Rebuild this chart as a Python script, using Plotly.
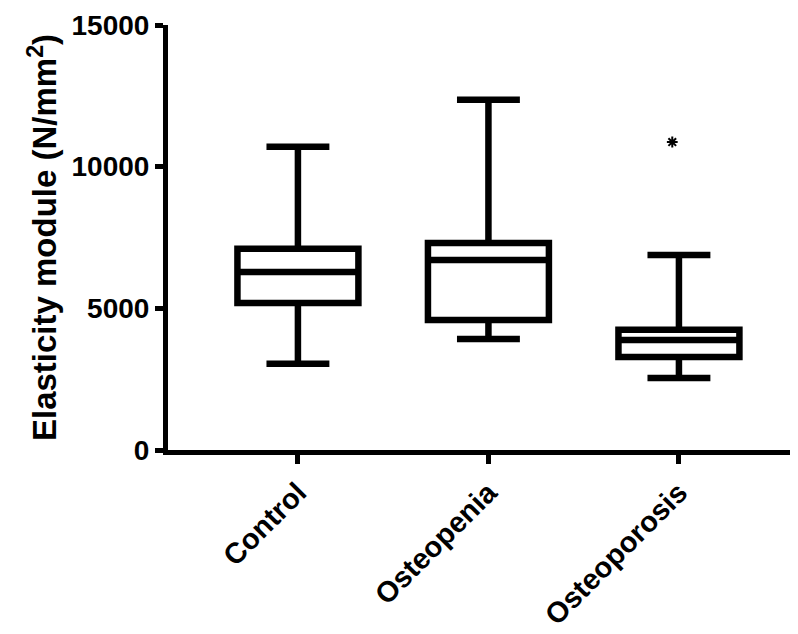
import plotly.graph_objects as go

categories = ["Control", "Osteopenia", "Osteoporosis"]
lower_whisker = [3040, 3920, 2540]
q1_values = [5190, 4590, 3280]
median_values = [6280, 6710, 3880]
q3_values = [7100, 7310, 4240]
upper_whisker = [10700, 12360, 6880]
outlier_group = ["Osteoporosis"]
outlier_values = [10870]

ytick_vals = [0, 5000, 10000, 15000]
ytick_text = ["0", "5000", "10000", "15000"]

FONT = "Liberation Sans, Arial, sans-serif"
xpos = list(range(len(categories)))

fig = go.Figure()
for i, c in enumerate(categories):
    fig.add_trace(go.Box(
        x=[xpos[i]],
        q1=[q1_values[i]], median=[median_values[i]], q3=[q3_values[i]],
        lowerfence=[lower_whisker[i]], upperfence=[upper_whisker[i]],
        width=0.635, whiskerwidth=0.52,
        fillcolor="white",
        line=dict(color="black", width=6.5),
        boxpoints=False, showlegend=False, name=c,
    ))

fig.add_trace(go.Scatter(
    x=[categories.index(g) - 0.035 for g in outlier_group],
    y=outlier_values,
    mode="markers",
    marker=dict(symbol="asterisk-open", size=9, color="black",
                line=dict(color="black", width=2)),
    showlegend=False,
))

fig.update_layout(
    width=790, height=626,
    margin=dict(l=160, r=0, t=17, b=184),
    plot_bgcolor="white", paper_bgcolor="white",
    font=dict(family=FONT, color="black"),
    xaxis=dict(
        range=[-0.682, 2.625],
        automargin=False,
        tickmode="array", tickvals=xpos,
        ticktext=["<b>%s</b>" % c for c in categories],
        tickangle=-45,
        tickfont=dict(family=FONT, size=29, color="black"),
        showline=True, linecolor="black", linewidth=5,
        ticks="outside", ticklen=9, tickwidth=5, tickcolor="black",
        showgrid=False, zeroline=False,
    ),
    yaxis=dict(
        range=[0, 15000],
        automargin=False,
        tickmode="array", tickvals=ytick_vals,
        ticktext=["<b>%s</b>" % t for t in ytick_text],
        tickfont=dict(family=FONT, size=28, color="black"),
        showline=True, linecolor="black", linewidth=5,
        ticks="outside", ticklen=8, tickwidth=5, tickcolor="black",
        showgrid=False, zeroline=False,
        title=dict(text="<b>Elasticity module (N/mm<sup>2</sup>)</b>",
                   font=dict(family=FONT, size=33, color="black"),
                   standoff=6),
    ),
)

fig.write_html("out.html")
